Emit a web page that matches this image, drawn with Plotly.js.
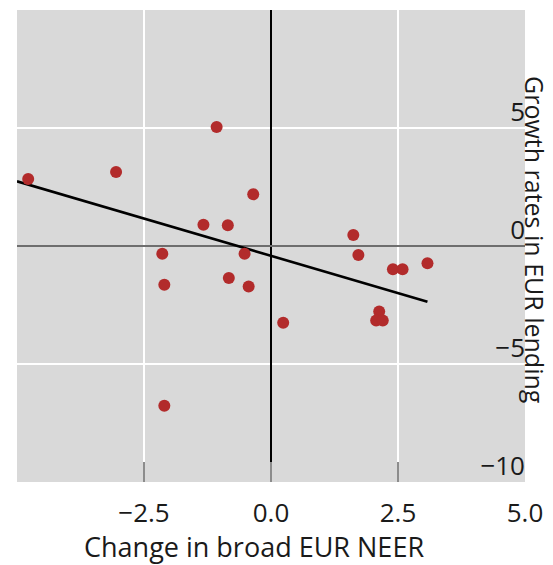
<!DOCTYPE html>
<html>
<head>
<meta charset="utf-8">
<script src="https://cdn.plot.ly/plotly-3.0.1.min.js"></script>
<style>html,body{margin:0;padding:0;background:#fff;}#chart{width:553px;height:565px;}</style>
</head>
<body>
<div id="chart"></div>
<script>
// Scatter points: change in broad EUR NEER (x) vs growth rates in EUR lending (y)
var neerChange = [-4.78, -3.05, -1.07, -0.35, -1.33, -0.85, -2.14, -0.52, -2.10, -0.83, -0.44, 0.24, -2.10,
                  1.62, 1.72, 2.40, 2.59, 3.08, 2.13, 2.07, 2.20];
var lendingGrowth = [2.84, 3.14, 5.04, 2.19, 0.90, 0.88, -0.33, -0.33, -1.64, -1.36, -1.72, -3.25, -6.77,
                     0.47, -0.38, -0.99, -0.99, -0.73, -2.78, -3.16, -3.16];
// Fitted regression line endpoints
var fitX = [-5.0, 3.08];
var fitY = [2.74, -2.36];
// Tick labels
var xTickVals = [-5, -2.5, 0, 2.5, 5];
var xTickText = ['', '\u22122.5', '0.0', '2.5', '5.0'];
var yTickVals = [-10, -5, 0, 5];
var yTickText = ['\u221210', '\u22125', '0', '5'];
var xTitle = 'Change in broad EUR NEER';
var yTitle = 'Growth rates in EUR lending';

var FONT = 'Open Sans, Noto Sans, sans-serif';
var TXT = '#1a1a1a';

var traces = [
  {x: fitX, y: fitY, type: 'scatter', mode: 'lines',
   line: {color: '#000000', width: 2.6}, hoverinfo: 'skip', showlegend: false},
  {x: neerChange, y: lendingGrowth, type: 'scatter', mode: 'markers',
   marker: {color: '#b22b2b', size: 12}, showlegend: false},
  // empty trace so the label-only y axis is drawn
  {x: [], y: [], type: 'scatter', mode: 'markers', yaxis: 'y2', showlegend: false, hoverinfo: 'skip'}
];

var layout = {
  width: 553, height: 565,
  margin: {l: 17, r: 28, t: 10, b: 83, pad: 0},
  paper_bgcolor: '#ffffff',
  plot_bgcolor: '#d9d9d9',
  font: {family: FONT, size: 26, color: TXT},
  showlegend: false,
  xaxis: {
    range: [-5, 5], tickmode: 'array', tickvals: xTickVals, ticktext: xTickText,
    ticks: 'inside', ticklen: 20, tickwidth: 2, tickcolor: '#8c8c8c',
    ticklabelstandoff: 13,
    showgrid: true, gridcolor: '#ffffff', gridwidth: 2,
    zeroline: true, zerolinecolor: '#000000', zerolinewidth: 2,
    showline: false,
    tickfont: {family: FONT, size: 26, color: TXT}
  },
  yaxis: {
    range: [-10, 10], side: 'right', tickmode: 'array', tickvals: yTickVals,
    ticks: '', showticklabels: false,
    showgrid: true, gridcolor: '#ffffff', gridwidth: 2,
    zeroline: true, zerolinecolor: '#6e6e6e', zerolinewidth: 2,
    showline: false
  },
  yaxis2: {
    range: [-10, 10], overlaying: 'y', side: 'left', anchor: 'free', position: 1,
    tickmode: 'array', tickvals: yTickVals, ticktext: yTickText,
    ticks: '', ticklabelshift: -16, ticklabelstandoff: 0,
    showgrid: false, zeroline: false, showline: false,
    tickfont: {family: FONT, size: 26, color: TXT}
  },
  annotations: [
    {text: yTitle, textangle: 90,
     xref: 'paper', yref: 'paper', x: 1, y: 0.5, xanchor: 'center', yanchor: 'middle',
     xshift: 10, yshift: 6, showarrow: false,
     font: {family: FONT, size: 25, color: TXT}},
    {text: xTitle,
     xref: 'paper', yref: 'paper', x: 0.5, y: 0, xanchor: 'center', yanchor: 'top',
     xshift: -17, yshift: -44, showarrow: false,
     font: {family: FONT, size: 27, color: TXT}}
  ]
};

Plotly.newPlot('chart', traces, layout, {displayModeBar: false, staticPlot: true});
</script>
</body>
</html>
